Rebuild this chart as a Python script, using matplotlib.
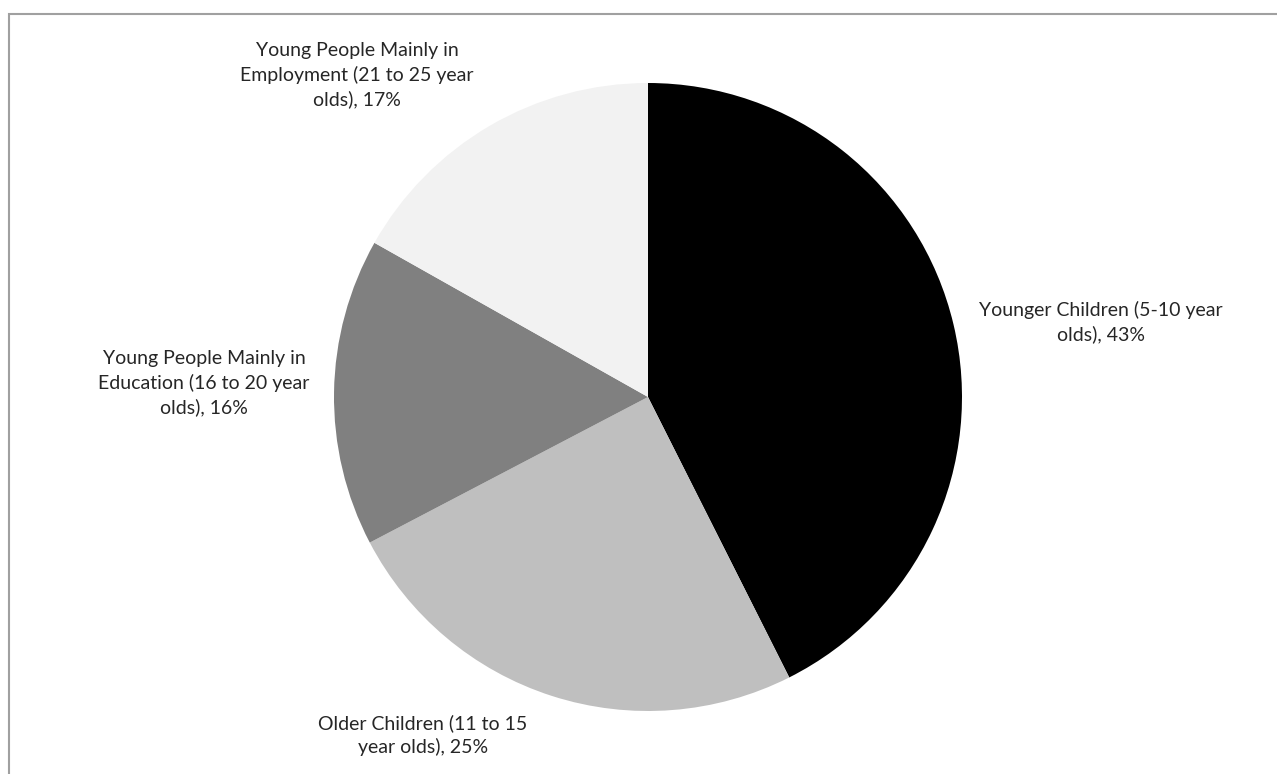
import matplotlib
matplotlib.use('Agg')
import matplotlib.pyplot as plt
from matplotlib.patches import Rectangle

plt.rcParams['font.family'] = ['Lato', 'DejaVu Sans']

categories = ['Younger Children (5-10 year\nolds)',
              'Older Children (11 to 15\nyear olds)',
              'Young People Mainly in\nEducation (16 to 20 year\nolds)',
              'Young People Mainly in\nEmployment (21 to 25 year\nolds)']
shares = [43, 25, 16, 17]
colors = ['#000000', '#bfbfbf', '#808080', '#f2f2f2']

# label centres in figure pixels (x from left, y from top)
label_pos = [(1101, 322), (423, 735), (204, 383), (357, 75)]

W, H = 1277, 774
fig = plt.figure(figsize=(W / 100, H / 100), dpi=100)

# pie centre at (648, 397) px, radius 314 px
ax = fig.add_axes([(648 - 314) / W, (H - 397 - 314) / H, 628 / W, 628 / H])
ax.pie(shares, colors=colors, startangle=90, counterclock=False,
       wedgeprops=dict(linewidth=0))
ax.set_xlim(-1, 1)
ax.set_ylim(-1, 1)
ax.set_aspect('equal')
ax.axis('off')

for name, val, (px, py) in zip(categories, shares, label_pos):
    fig.text(px / W, 1 - py / H, f'{name}, {val}%', ha='center', va='center',
             fontsize=14, color='#262626', linespacing=1.42)

# chart area border (right and bottom run off the canvas)
fig.patches.append(Rectangle((8.5 / W, -0.1), 1.2, 1 - 14 / H + 0.1,
                             transform=fig.transFigure, fill=False,
                             edgecolor='#a0a0a0', linewidth=1.5))

fig.savefig('out.png', dpi=100)
